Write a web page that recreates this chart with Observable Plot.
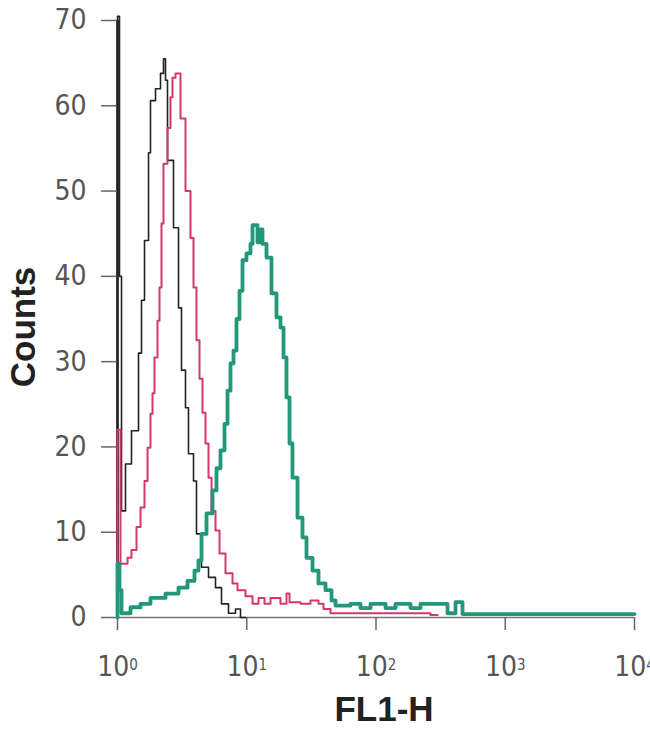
<!DOCTYPE html>
<html>
<head>
<meta charset="utf-8">
<script src="https://cdn.jsdelivr.net/npm/d3@7"></script>
<script src="https://cdn.jsdelivr.net/npm/@observablehq/plot@0.6"></script>
<style>
  html, body { margin: 0; padding: 0; background: #fff; }
  svg { display: block; }
</style>
</head>
<body>
<div id="chart"></div>
<script>
// FL1-H intensity (log axis) breakpoints and counts for each histogram (step-after)
const blackX = [1.000, 1.000, 1.036, 1.074, 1.153, 1.283, 1.454, 1.534, 1.618, 1.738, 1.800, 1.968, 2.151, 2.269, 2.352, 2.437, 2.712, 2.965, 3.128, 3.358, 3.542, 3.873, 4.085, 4.466, 5.060, 5.731, 6.378, 7.224, 8.185, 8.947, 9.779];
const blackY = [0, 70.5, 40, 12.5, 18, 21.9, 31, 37.2, 44.2, 54.5, 60.6, 62, 63.8, 65.5, 63, 53.6, 45.7, 36.3, 29, 24.6, 19.2, 16, 9.8, 5.9, 4.7, 3.5, 1.6, 0.5, 1, 0, 0];

const redX = [1.000, 1.000, 1.055, 1.195, 1.283, 1.403, 1.507, 1.618, 1.707, 1.800, 1.866, 1.933, 2.040, 2.113, 2.190, 2.269, 2.437, 2.570, 2.664, 2.811, 3.073, 3.358, 3.671, 3.873, 4.085, 4.309, 4.546, 4.797, 5.060, 5.339, 5.731, 6.155, 6.848, 7.760, 8.482, 9.779, 11.08, 12.33, 13.72, 15.27, 18.24, 20.30, 21.42, 26.07, 31.13, 35.91, 39.25, 44.46, 264, 300];
const redY = [0, 22, 6.3, 7, 7.9, 10.6, 12.9, 16, 19.9, 23.9, 26.3, 30.5, 34.8, 38.7, 46.2, 53.2, 57.4, 61, 63.3, 63.8, 58.5, 50, 44.5, 38.7, 32.5, 28, 24, 20.4, 16.4, 12.5, 10.2, 7.5, 5.2, 4, 3.2, 2.5, 1.6, 2.3, 1.6, 2.3, 1.6, 2.8, 1.8, 1.6, 2, 1.6, 1, 0.5, 0.3, 0.3];

const greenX = [1.000, 1.000, 1.036, 1.074, 1.261, 1.507, 1.800, 2.352, 2.965, 3.480, 3.942, 4.234, 4.466, 4.883, 5.433, 5.834, 6.266, 6.729, 7.097, 7.487, 7.898, 8.331, 8.788, 9.271, 9.956, 10.69, 11.08, 12.11, 12.78, 13.24, 14.22, 15.54, 16.99, 18.24, 19.25, 20.30, 21.42, 22.59, 24.70, 27.00, 29.00, 32.27, 35.91, 40.67, 45.26, 48.62, 63.50, 75.86, 90.66, 118.5, 141.6, 184.9, 221.0, 315.5, 357.5, 412.3, 467.0, 10000];
const greenY = [0, 6.3, 3.2, 0.5, 1.2, 1.6, 2.3, 2.8, 3.5, 4.3, 5.5, 6.7, 9.8, 12.2, 14.9, 17.5, 19.6, 22.7, 26.6, 29.8, 31.3, 35, 38.3, 41.9, 42.7, 43.8, 46, 44, 45.5, 43.8, 42.2, 38, 35.2, 34, 30.5, 25.8, 20.4, 16.4, 11.7, 9.4, 7, 5.5, 4, 3.2, 2, 1.4, 1.6, 1.1, 1.6, 1.1, 1.6, 1.1, 1.6, 1.6, 0.5, 1.8, 0.4, 0.4];

const xTicks = [1, 10, 100, 1000, 10000];
const yTicks = [0, 10, 20, 30, 40, 50, 60, 70];
const xLabel = "FL1-H";
const yLabel = "Counts";

const toRows = (xs, ys) => xs.map((x, i) => ({x, y: ys[i]}));
const black = toRows(blackX, blackY);
const red = toRows(redX, redY);
const green = toRows(greenX, greenY);

const tickFont = "'Liberation Sans Narrow', 'Arial Narrow', 'DejaVu Sans Condensed', sans-serif";
const titleFont = "'Liberation Sans', Arial, sans-serif";

const chart = Plot.plot({
  width: 650,
  height: 738,
  marginLeft: 117,
  marginRight: 16,
  marginTop: 20,
  marginBottom: 121,
  x: {type: "log", domain: [1, 10000], label: null},
  y: {domain: [0, 70], label: null},
  marks: [
    Plot.ruleY([0], {stroke: "#777", strokeWidth: 1.5}),
    Plot.ruleX([1], {stroke: "#111", strokeWidth: 2.5}),
    Plot.axisY(yTicks, {tickSize: 16, tickPadding: 15, fontSize: 28, stroke: "#666", fill: "#555",
      strokeWidth: 1.5, fontFamily: tickFont, label: null}),
    Plot.axisX(xTicks, {tickSize: 13, tickPadding: 26, fontSize: 28, stroke: "#666", fill: "#555",
      strokeWidth: 1.5, fontFamily: tickFont, label: null,
      tickFormat: d => "10^" + Math.round(Math.log10(d))}),
    Plot.line(black, {x: "x", y: "y", curve: "step-after", stroke: "#222", strokeWidth: 1.6}),
    Plot.line(red, {x: "x", y: "y", curve: "step-after", stroke: "#d4376f", strokeWidth: 2}),
    Plot.line(green, {x: "x", y: "y", curve: "step-after", stroke: "#23977a", strokeWidth: 3.8}),
    Plot.text([yLabel], {text: d => d, frameAnchor: "left", textAnchor: "middle", lineAnchor: "middle",
      rotate: -90, dx: -94, dy: 8,
      fontSize: 35, fontWeight: "bold", fill: "#222", fontFamily: titleFont}),
    Plot.text([xLabel], {text: d => d, frameAnchor: "bottom", textAnchor: "middle", dx: 8, dy: 103,
      fontSize: 35, fontWeight: "bold", fill: "#222", fontFamily: titleFont})
  ]
});

// superscript exponents for the x tick labels
d3.select(chart).selectAll("text").each(function() {
  const t = this.textContent;
  const m = /^10\^(\d+)$/.exec(t);
  if (!m) return;
  const sel = d3.select(this);
  sel.text("10");
  sel.append("tspan").attr("dy", "-0.42em").attr("font-size", "15px").text(m[1]);
});

document.getElementById("chart").appendChild(chart);
</script>
</body>
</html>
